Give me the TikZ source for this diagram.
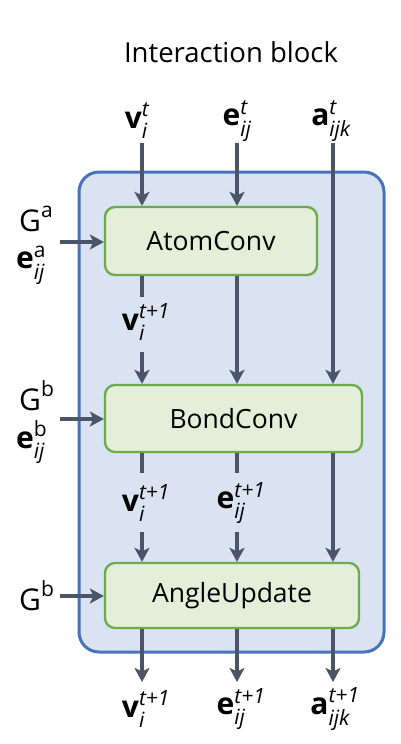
\documentclass[tikz,border=0pt]{standalone}
\usepackage{amsmath}
\usepackage{fontspec}
\setmainfont{Open Sans}
\usetikzlibrary{arrows.meta}
\definecolor{linec}{RGB}{74,85,104}
\definecolor{blockline}{RGB}{72,114,186}
\definecolor{blockfill}{RGB}{217,227,241}
\definecolor{convline}{RGB}{108,170,76}
\definecolor{convfill}{RGB}{227,239,216}
\newcommand{\vsym}[3]{$\textbf{#1}^{\text{\raisebox{2.5pt}{\itshape #2}}}_{\text{\raisebox{-4pt}{\itshape #3}}}$}

\begin{document}
\begin{tikzpicture}[x=1pt, y=-1pt,
	flow/.style={draw=linec, line width=3.8pt, -{Stealth[length=14pt, width=15pt, inset=3.5pt]}},
	feed/.style={draw=linec, line width=3.8pt},
	conv/.style={draw=convline, fill=convfill, line width=2.3pt, rounded corners=10pt, inner sep=0pt, font=\fontsize{26.5}{30}\selectfont},
	var/.style={inner sep=0pt, font=\fontsize{30}{34}\selectfont}]
	\useasboundingbox (0,0) rectangle (401,744);
	\node[font=\fontsize{27.5}{32}\selectfont] (title) at (231,52) {Interaction block};
	\draw[draw=blockline, fill=blockfill, line width=3pt, rounded corners=20pt] (79,172) rectangle (384,652);
	\node[conv, minimum width=212pt, minimum height=68pt] (atom) at (211,241) {AtomConv};
	\node[conv, minimum width=257pt, minimum height=67pt] (bond) at (233.5,418.5) {BondConv};
	\node[conv, minimum width=254pt, minimum height=65pt] (angle) at (232,595.5) {AngleUpdate};
	% inputs at the top
	\node[var] (vin) at (137,121) {\vsym{v}{t}{i}};
	\node[var] (ein) at (237,121) {\vsym{e}{t}{ij}};
	\node[var] (ain) at (331,121) {\vsym{a}{t}{ijk}};
	\coordinate (vtop) at (142,143);
	\coordinate (etop) at (237,143);
	\coordinate (atop) at (333,143);
	\draw[flow] (vtop) -- (vtop |- atom.north);
	\draw[flow] (etop) -- (etop |- atom.north);
	\draw[flow] (atop) -- (atop |- bond.north);
	% AtomConv to BondConv
	\coordinate (vstop1) at (142,297);
	\coordinate (vgo1) at (142,352);
	\node[var] (vmid1) at (146,322) {\vsym{v}{t+1}{i}};
	\draw[feed] (atom.south -| vtop) -- (vstop1);
	\draw[flow] (vgo1) -- (vgo1 |- bond.north);
	\draw[flow] (atom.south -| etop) -- (etop |- bond.north);
	% BondConv to AngleUpdate
	\coordinate (vstop2) at (142,473);
	\coordinate (vgo2) at (142,532);
	\coordinate (estop2) at (237,473);
	\coordinate (ego2) at (237,532);
	\node[var] (vmid2) at (146,503) {\vsym{v}{t+1}{i}};
	\node[var] (emid2) at (241,503) {\vsym{e}{t+1}{ij}};
	\draw[feed] (bond.south -| vtop) -- (vstop2);
	\draw[flow] (vgo2) -- (vgo2 |- angle.north);
	\draw[feed] (bond.south -| etop) -- (estop2);
	\draw[flow] (ego2) -- (ego2 |- angle.north);
	\draw[flow] (bond.south -| atop) -- (atop |- angle.north);
	% outputs
	\coordinate (vend) at (142,682);
	\coordinate (eend) at (237,682);
	\coordinate (aend) at (333,682);
	\draw[flow] (angle.south -| vend) -- (vend);
	\draw[flow] (angle.south -| eend) -- (eend);
	\draw[flow] (angle.south -| aend) -- (aend);
	\node[var] (vout) at (146,709) {\vsym{v}{t+1}{i}};
	\node[var] (eout) at (241,709) {\vsym{e}{t+1}{ij}};
	\node[var] (aout) at (335,709) {\vsym{a}{t+1}{ijk}};
	% graphs on the left
	\node[var, anchor=west] (ga) at (19,219) {$\text{G}^{\text{a}}$};
	\node[var, anchor=west] (ea) at (16,265) {\vsym{e}{\upshape a}{ij}};
	\coordinate (gain) at (60,242);
	\draw[flow] (gain) -- (gain -| atom.west);
	\node[var, anchor=west] (gb) at (19,396) {$\text{G}^{\text{b}}$};
	\node[var, anchor=west] (eb) at (16,442) {\vsym{e}{\upshape b}{ij}};
	\coordinate (gbin) at (60,419);
	\draw[flow] (gbin) -- (gbin -| bond.west);
	\node[var, anchor=west] (gc) at (19,596) {$\text{G}^{\text{b}}$};
	\coordinate (gcin) at (60,596);
	\draw[flow] (gcin) -- (gcin -| angle.west);
\end{tikzpicture}
\end{document}
